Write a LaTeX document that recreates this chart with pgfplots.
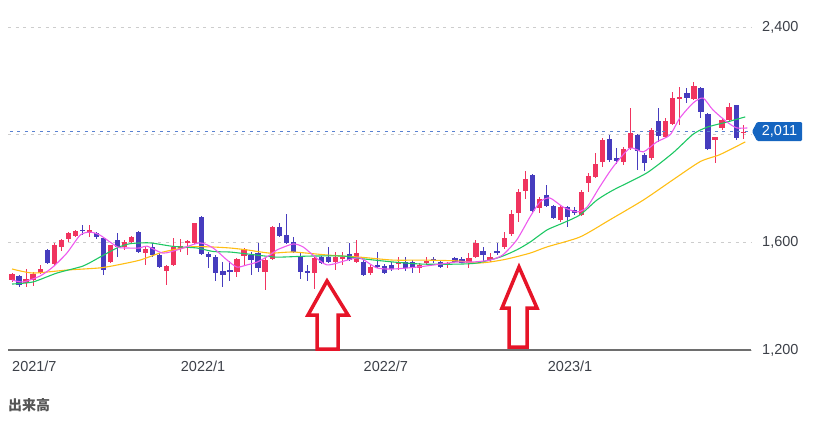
\documentclass[border=0pt]{standalone}
\usepackage{fontspec}
\setmainfont{Liberation Sans}
\newfontfamily\cjk{Noto Sans CJK JP}
\usepackage{pgfplots}
\usepackage{pgfplotstable}
\pgfplotsset{compat=1.18}
\definecolor{upred}{RGB}{240,52,95}
\definecolor{downblue}{RGB}{70,60,190}
\definecolor{maPink}{RGB}{238,90,238}
\definecolor{maGreen}{RGB}{30,200,100}
\definecolor{maYellow}{RGB}{255,190,20}
\definecolor{gridgray}{RGB}{205,205,205}
\definecolor{lastblue}{RGB}{90,130,210}
\definecolor{boxblue}{RGB}{21,101,192}
\definecolor{arrowred}{RGB}{230,20,40}
\definecolor{axisgray}{RGB}{110,110,110}
\definecolor{labelgray}{RGB}{60,64,72}

\pgfplotstableread{
i O H L C
0 1460 1486 1453 1482
2 1449 1501 1434 1464
3 1460 1490 1438 1482
4 1490 1516 1482 1501
6 1519 1598 1516 1590
7 1583 1612 1568 1609
8 1612 1638 1601 1635
9 1624 1646 1620 1642
11 1635 1664 1620 1646
14 1527 1590 1523 1590
16 1583 1609 1572 1601
17 1601 1624 1598 1620
19 1560 1583 1516 1575
22 1493 1516 1441 1512
23 1516 1616 1512 1583
24 1579 1612 1564 1586
25 1598 1609 1553 1605
26 1598 1672 1594 1672
32 1490 1542 1471 1538
33 1549 1579 1516 1575
36 1490 1545 1423 1534
37 1538 1661 1534 1657
43 1486 1545 1427 1542
46 1527 1564 1497 1545
47 1538 1564 1516 1545
49 1527 1609 1523 1560
51 1486 1516 1479 1508
55 1519 1545 1497 1527
58 1505 1523 1486 1516
59 1523 1545 1516 1531
62 1516 1527 1505 1523
65 1523 1560 1505 1542
66 1545 1609 1542 1598
68 1534 1560 1527 1545
70 1583 1638 1575 1616
71 1631 1720 1624 1705
72 1709 1798 1676 1787
73 1791 1865 1761 1835
75 1728 1768 1709 1761
78 1683 1739 1676 1731
81 1702 1794 1698 1787
82 1820 1858 1787 1846
83 1843 1932 1839 1891
84 1898 1988 1880 1980
87 1898 1954 1887 1947
88 1950 2099 1943 2006
91 1913 2025 1906 2017
93 1991 2062 1988 2051
94 2040 2158 2036 2136
95 2132 2177 2036 2140
97 2132 2196 2129 2181
100 1980 1991 1895 1991
101 2025 2062 2017 2054
102 2054 2118 2047 2103
104 2006 2036 1984 2011
}\uptable

\pgfplotstableread{
i O H L C
1 1475 1479 1434 1441
5 1572 1575 1519 1523
10 1646 1664 1627 1642
12 1635 1638 1612 1620
13 1616 1620 1479 1497
15 1609 1635 1545 1583
18 1638 1642 1560 1564
20 1583 1598 1545 1553
21 1553 1560 1505 1508
27 1694 1698 1553 1557
28 1557 1564 1505 1545
29 1545 1553 1456 1486
30 1493 1527 1434 1479
31 1497 1531 1456 1493
34 1553 1564 1479 1534
35 1560 1598 1490 1505
38 1657 1672 1620 1624
39 1627 1705 1594 1598
40 1601 1620 1560 1564
41 1545 1564 1464 1490
42 1493 1516 1456 1486
44 1545 1549 1519 1523
45 1545 1583 1523 1527
48 1557 1598 1531 1534
50 1527 1534 1475 1479
52 1516 1564 1505 1508
53 1512 1519 1482 1486
54 1516 1527 1493 1501
56 1527 1545 1493 1505
57 1527 1534 1486 1505
60 1538 1545 1523 1531
61 1527 1534 1505 1508
63 1542 1545 1523 1527
64 1538 1545 1523 1523
67 1568 1583 1531 1553
69 1568 1598 1553 1560
74 1850 1854 1713 1716
76 1776 1813 1731 1735
77 1735 1739 1687 1690
79 1731 1735 1657 1694
80 1720 1731 1702 1709
85 1984 1999 1898 1906
86 1913 1950 1891 1902
89 1999 2002 1869 1939
90 1924 1932 1865 1895
92 2051 2099 1973 1995
96 2155 2173 2118 2136
98 2173 2177 2062 2084
99 2077 2081 1943 1947
103 2110 2110 1980 1988
}\downtable

\begin{document}
\begin{tikzpicture}[x=1bp,y=1bp]
\useasboundingbox (0,0) rectangle (829,421);
\begin{axis}[
  at={(8bp,71bp)}, anchor=south west,
  scale only axis, width=743bp, height=323bp,
  xmin=-0.57, xmax=105.12, ymin=1200, ymax=2400,
  axis x line*=bottom, axis y line*=right,
  x axis line style={draw=axisgray, line width=1.5bp},
  y axis line style={draw=none},
  ytick={1200,1600,2400},
  extra y ticks={2000}, extra y tick labels={},
  extra y tick style={ymajorgrids},
  xtick={0,24,50,76.2},
  xticklabels={2021/7,2022/1,2022/7,2023/1},
  major tick length=0pt,
  ymajorgrids,
  grid style={draw=gridgray, dash pattern=on 3bp off 4.5bp, line width=0.8bp},
  tick label style={font=\fontsize{14.5bp}{17bp}\selectfont, text=labelgray},
  xticklabel style={anchor=north west, inner sep=0pt, yshift=-11bp},
  yticklabel style={anchor=west, inner sep=0pt, xshift=11bp},
  /pgf/number format/.cd, 1000 sep={,}, assume math mode=true,
  /pgfplots/.cd,
  clip=false,
]
% wicks
\addplot[draw=none, mark=none, forget plot, error bars/.cd, y dir=both, y explicit, error mark=none,
  error bar style={draw=upred, line width=1bp}]
  table[x=i, y expr={(\thisrow{H}+\thisrow{L})/2}, y error expr={(\thisrow{H}-\thisrow{L})/2}] {\uptable};
\addplot[draw=none, mark=none, forget plot, error bars/.cd, y dir=both, y explicit, error mark=none,
  error bar style={draw=downblue, line width=1bp}]
  table[x=i, y expr={(\thisrow{H}+\thisrow{L})/2}, y error expr={(\thisrow{H}-\thisrow{L})/2}] {\downtable};
% bodies
\addplot[draw=none, mark=none, forget plot, error bars/.cd, y dir=both, y explicit, error mark=none,
  error bar style={draw=upred, line width=5.2bp}]
  table[x=i, y expr={(\thisrow{O}+\thisrow{C})/2}, y error expr={max(abs(\thisrow{C}-\thisrow{O})/2,2.5)}] {\uptable};
\addplot[draw=none, mark=none, forget plot, error bars/.cd, y dir=both, y explicit, error mark=none,
  error bar style={draw=downblue, line width=5.2bp}]
  table[x=i, y expr={(\thisrow{O}+\thisrow{C})/2}, y error expr={max(abs(\thisrow{C}-\thisrow{O})/2,2.5)}] {\downtable};
% last price line
\addplot[lastblue, dash pattern=on 3bp off 4.5bp, line width=0.8bp, mark=none] coordinates {(-0.3,2011) (105.12,2011)};
% moving averages
\addplot[maYellow, line width=1.1bp, smooth, tension=0.4, mark=none] coordinates {
(0,1501) (3,1486) (7.8,1497) (12.5,1505) (15,1516) (18.2,1534) (21.5,1564) (25.3,1583) (28.2,1583) (31,1579) (33.4,1572) (36.7,1560) (40,1564) (44.8,1553) (49.5,1545) (54.2,1534) (58.5,1534) (63.3,1531) (66.1,1523) (68,1527) (70.4,1538) (73.7,1560) (76.1,1583) (80.8,1620) (85,1683) (89.8,1757) (94,1832) (97.9,1900) (100.7,1926) (104.3,1973)};
\addplot[maGreen, line width=1.1bp, smooth, tension=0.4, mark=none] coordinates {
(0,1445) (3,1453) (6.4,1486) (10.1,1512) (12.5,1545) (15,1580) (16.8,1595) (19.6,1598) (22.9,1585) (26.3,1579) (28.6,1566) (31,1564) (33.4,1557) (36.7,1547) (38.1,1545) (42.4,1549) (47.1,1549) (49.5,1540) (54.2,1527) (58.5,1519) (63.3,1519) (66.1,1523) (69.4,1545) (71.8,1572) (73.7,1601) (76.1,1646) (78.4,1672) (80.8,1702) (83.2,1757) (85.5,1794) (90.3,1858) (94,1932) (96.9,2002) (98.9,2028) (101.7,2047) (104.3,2066)};
\addplot[maPink, line width=1.1bp, smooth, tension=0.4, mark=none] coordinates {
(0,1460) (1.6,1453) (4,1475) (5.8,1508) (7.8,1560) (9.7,1627) (11.1,1638) (12.5,1627) (15,1583) (16.4,1579) (18.2,1579) (19.2,1586) (21.5,1560) (23.9,1575) (26.7,1598) (28.6,1579) (30.6,1534) (32,1508) (33.4,1516) (34.9,1527) (36.7,1553) (37.7,1572) (40,1594) (41.4,1583) (42.8,1553) (44.8,1516) (47.7,1534) (49.5,1542) (51.9,1505) (54.2,1501) (57.6,1508) (60.9,1519) (63.3,1527) (65.6,1527) (68,1534) (69.8,1553) (71.8,1609) (73.7,1695) (75.1,1750) (76.5,1765) (78.4,1731) (80.4,1713) (81.8,1731) (83.6,1806) (85.5,1880) (87.9,1950) (89.8,1936) (91.7,1973) (93.6,1999) (95,2062) (96.9,2118) (98.3,2136) (99.7,2092) (101.7,2047) (103.1,2025) (104.6,2025)};
\end{axis}
% arrows
\draw[arrowred, line width=3.5bp, line join=miter, fill=white]
  (327,140) -- (348,106) -- (338,106) -- (338,72) -- (317,72) -- (317,106) -- (308,106) -- cycle;
\draw[arrowred, line width=3.5bp, line join=miter, fill=white]
  (519,154) -- (537,113) -- (527,113) -- (527,74) -- (509,74) -- (509,113) -- (502,113) -- cycle;
% last price box
\fill[boxblue, rounded corners=1.2bp] (752,289.5) -- (757,299) -- (802,299) -- (802,280) -- (757,280) -- cycle;
\node[text=white, inner sep=0pt, font=\fontsize{14.5bp}{17bp}\selectfont] at (779.5,289.5) {2,011};
% volume heading
\node[anchor=west, inner sep=0pt, text={rgb,255:red,85;green,85;blue,85}] at (8,16) {\cjk\bfseries\fontsize{14bp}{16bp}\selectfont 出来高};
\end{tikzpicture}
\end{document}
